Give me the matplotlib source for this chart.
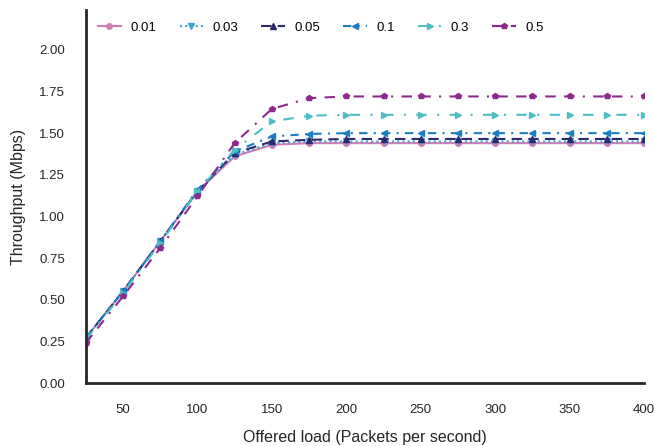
import matplotlib
matplotlib.use("Agg")
import matplotlib.pyplot as plt

plt.rcParams["font.family"] = ["Liberation Sans", "DejaVu Sans"]

# ---------------------------------------------------------------------------
# Data: throughput vs offered load for several probability settings
# ---------------------------------------------------------------------------

LOAD = [25, 50, 75, 100, 125, 150, 175, 200, 225, 250, 275, 300, 325, 350, 375, 400]

SERIES_LABELS = ["0.01", "0.03", "0.05", "0.1", "0.3", "0.5"]

TP_001 = [0.27, 0.55, 0.85, 1.15, 1.36, 1.43, 1.44, 1.44, 1.44, 1.44, 1.44, 1.44, 1.44, 1.44, 1.44, 1.44]
TP_003 = [0.27, 0.55, 0.85, 1.15, 1.37, 1.44, 1.45, 1.45, 1.45, 1.45, 1.45, 1.45, 1.45, 1.45, 1.45, 1.45]
TP_005 = [0.27, 0.55, 0.85, 1.15, 1.38, 1.45, 1.46, 1.465, 1.465, 1.465, 1.465, 1.465, 1.465, 1.465, 1.465, 1.465]
TP_01 = [0.27, 0.55, 0.85, 1.16, 1.39, 1.48, 1.495, 1.50, 1.50, 1.50, 1.50, 1.50, 1.50, 1.50, 1.50, 1.50]
TP_03 = [0.26, 0.54, 0.84, 1.15, 1.40, 1.57, 1.605, 1.61, 1.61, 1.61, 1.61, 1.61, 1.61, 1.61, 1.61, 1.61]
TP_05 = [0.24, 0.52, 0.81, 1.12, 1.44, 1.645, 1.71, 1.72, 1.72, 1.72, 1.72, 1.72, 1.72, 1.72, 1.72, 1.72]

SERIES = [TP_001, TP_003, TP_005, TP_01, TP_03, TP_05]

COLORS = ["#d17db5", "#3ba7d2", "#2c2a70", "#1b7dc2", "#4dbfc4", "#8d2a8e"]
MARKERS = ["o", "v", "^", "<", ">", "p"]
STYLES = [
    "-",
    (0, (1, 1.5)),
    (0, (5, 3)),
    (0, (4, 3, 1, 3)),
    (0, (5, 5, 1, 5)),
    (0, (5, 4, 5, 4, 1, 4)),
]

# ---------------------------------------------------------------------------
# Plot
# ---------------------------------------------------------------------------

fig = plt.figure(figsize=(6.54, 4.46), dpi=100)
ax = fig.add_axes([0.131, 0.141, 0.854, 0.837])

for label, ys, c, m, ls in zip(SERIES_LABELS, SERIES, COLORS, MARKERS, STYLES):
    ax.plot(LOAD, ys, color=c, marker=m, linestyle=ls, linewidth=1.5,
            markersize=4, label=label)

ax.set_xlim(25, 400)
ax.set_ylim(0, 2.24)
ax.set_xticks([50, 100, 150, 200, 250, 300, 350, 400])
ax.set_yticks([0, 0.25, 0.5, 0.75, 1.0, 1.25, 1.5, 1.75, 2.0])
ax.set_yticklabels([f"{v:.2f}" for v in ax.get_yticks()])

ax.tick_params(length=0, pad=15, labelsize=9.5, labelcolor="#262626")
ax.set_xlabel("Offered load (Packets per second)", fontsize=11.5,
              color="#262626", labelpad=10)
ax.set_ylabel("Throughput (Mbps)", fontsize=11.5, color="#262626",
              labelpad=9)

for side in ["top", "right"]:
    ax.spines[side].set_visible(False)
for side in ["left", "bottom"]:
    ax.spines[side].set_linewidth(2)
    ax.spines[side].set_color("#262626")

ax.legend(loc="upper left", ncol=6, frameon=False, fontsize=9.5,
          handlelength=1.8, handletextpad=0.7, columnspacing=1.75,
          bbox_to_anchor=(0.0, 1.0))

fig.savefig("out.png", dpi=100)
